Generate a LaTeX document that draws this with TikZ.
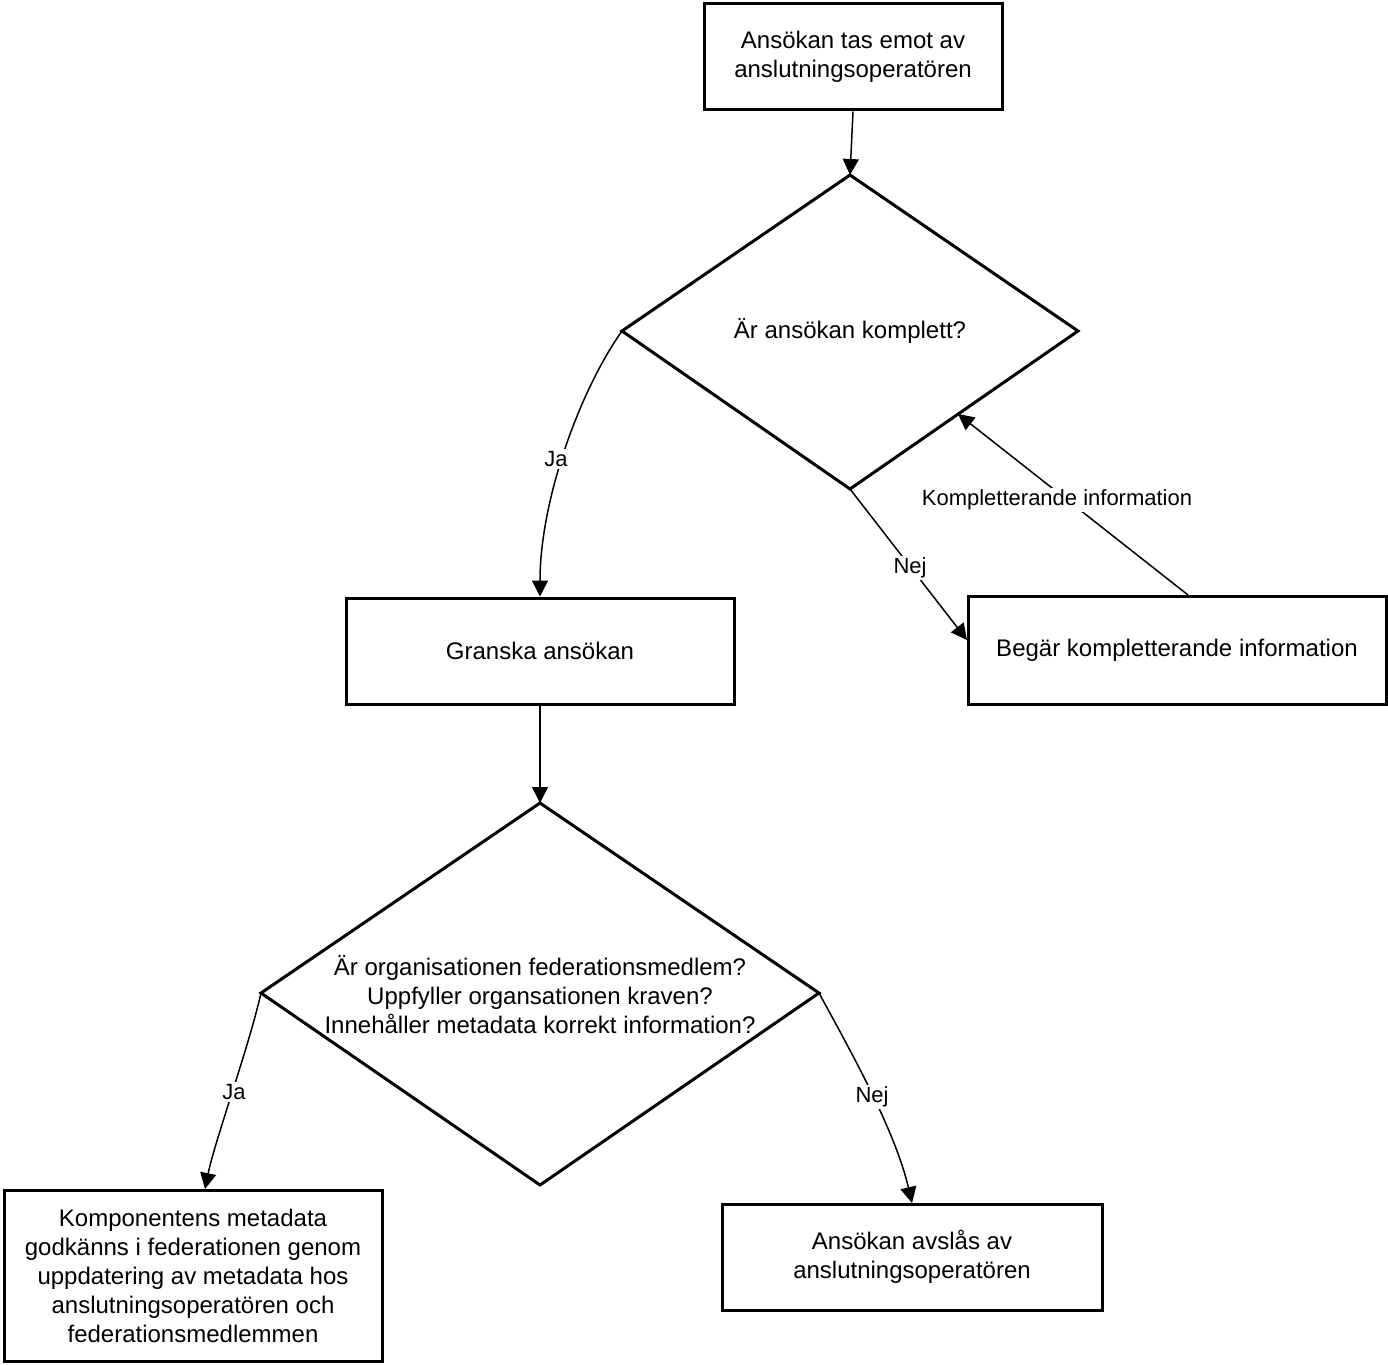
\documentclass[tikz,border=0pt]{standalone}
\usepackage{fontspec}
\setmainfont{Liberation Sans}
\usetikzlibrary{arrows.meta}
\begin{document}
\begin{tikzpicture}[x=1pt,y=-1pt,
  box/.style={draw,line width=3pt,rectangle,inner sep=0pt,align=center,font=\fontsize{24}{29}\selectfont},
  shp/.style={draw,line width=3pt,line join=miter},
  txt/.style={align=center,font=\fontsize{24}{29}\selectfont,inner sep=0pt},
  arr/.style={line width=1.5pt,-{Triangle[length=16pt,width=16pt]}},
  lbl/.style={fill=white,inner sep=2pt,font=\fontsize{22}{26}\selectfont}]
\useasboundingbox (0,0) rectangle (1388,1364);
% boxes
\node[box,minimum width=298pt,minimum height=106pt] (b1) at (853,57) {Ansökan tas emot av\\anslutningsoperatören};
\node[box,minimum width=388pt,minimum height=106pt] (b2) at (540,651) {Granska ansökan};
\node[box,minimum width=418pt,minimum height=108pt] (b3) at (1177,650) {Begär kompletterande information};
\node[box,minimum width=378pt,minimum height=171pt] (b4) at (193,1275.5) {Komponentens metadata\\godkänns i federationen genom\\uppdatering av metadata hos\\anslutningsoperatören och\\federationsmedlemmen};
\node[box,minimum width=380pt,minimum height=106pt] (b5) at (912,1257) {Ansökan avslås av\\anslutningsoperatören};
% diamond 1
\coordinate (d1t) at (850,175);
\coordinate (d1r) at (1078,331);
\coordinate (d1b) at (850,489);
\coordinate (d1l) at (622,331);
\coordinate (d1e) at (958,414);
\draw[shp] (d1t) -- (d1r) -- (d1b) -- (d1l) -- cycle;
\node[txt] (d1) at (850,331) {Är ansökan komplett?};
% diamond 2
\coordinate (d2t) at (540,803);
\coordinate (d2r) at (819,993);
\coordinate (d2b) at (540,1185);
\coordinate (d2l) at (261,993);
\draw[shp] (d2t) -- (d2r) -- (d2b) -- (d2l) -- cycle;
\node[txt] (d2) at (540,995) {Är organisationen federationsmedlem?\\Uppfyller organsationen kraven?\\Innehåller metadata korrekt information?};
% connectors
\coordinate (b3t) at (1188,595);
\coordinate (b3w) at (967,640);
\coordinate (b4t) at (205,1189);
\coordinate (b5t) at (912,1203);
\draw[arr] (b1.south) -- (d1t);
\draw[arr] (d1l) .. controls (580,390) and (540,500) .. (b2.north);
\node[lbl] (ja1) at (556,459) {Ja};
\draw[arr] (d1b) -- (b3w);
\node[lbl] (nej1) at (910,568) {Nej};
\draw[arr] (b3t) -- (d1e);
\node[lbl] (komp) at (1057,500) {Kompletterande information};
\draw[arr] (b2.south) -- (d2t);
\draw[arr] (d2l) .. controls (248,1050) and (215,1140) .. (b4t);
\node[lbl] (ja2) at (234,1092) {Ja};
\draw[arr] (d2r) .. controls (850,1050) and (895,1130) .. (b5t);
\node[lbl] (nej2) at (872,1097) {Nej};
\end{tikzpicture}
\end{document}
